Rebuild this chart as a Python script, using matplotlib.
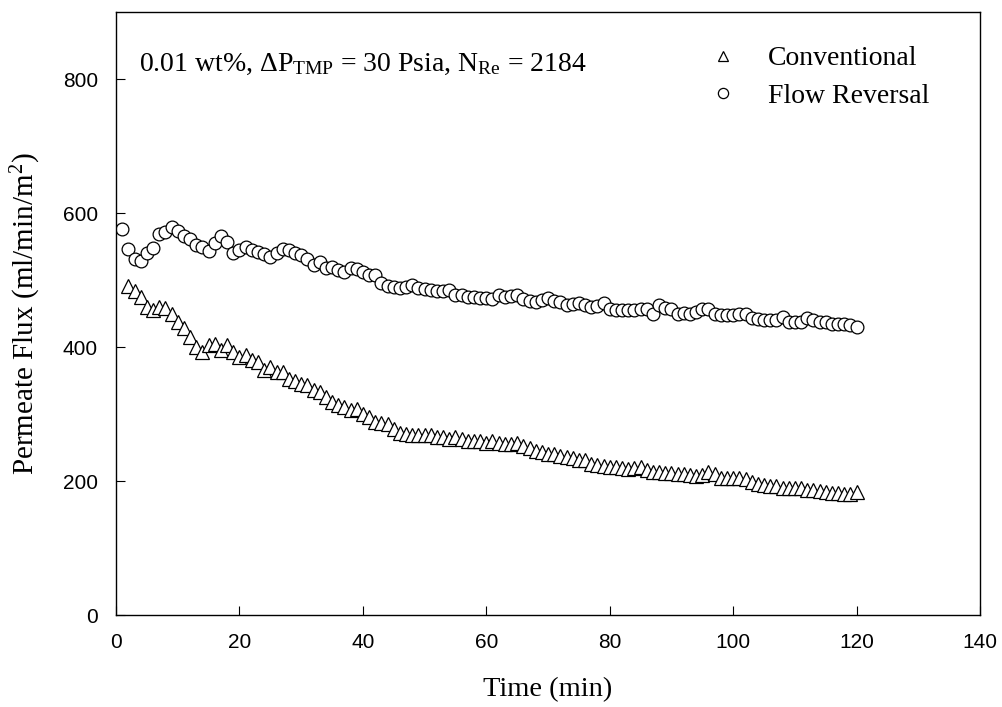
import numpy as np
import matplotlib
matplotlib.use('Agg')
import matplotlib.pyplot as plt

plt.rcParams['mathtext.fontset'] = 'custom'
plt.rcParams['mathtext.rm'] = 'Liberation Serif'
plt.rcParams['mathtext.it'] = 'Liberation Serif:italic'

# flow reversal, one reading per minute from t = 1
time_fr = np.arange(1, 121)
flux_fr = [576, 546, 532, 529, 540, 548, 569, 571, 579, 573,
           565, 561, 553, 550, 543, 555, 565, 556, 541, 545,
           550, 545, 542, 539, 535, 540, 547, 545, 541, 537,
           531, 522, 527, 518, 520, 515, 512, 518, 517, 512,
           508, 507, 495, 491, 490, 488, 490, 493, 488, 486,
           485, 484, 484, 485, 478, 477, 475, 474, 473, 473,
           471, 477, 475, 476, 478, 471, 468, 467, 470, 473,
           469, 467, 463, 464, 465, 462, 460, 461, 465, 457,
           455, 455, 455, 455, 457, 456, 450, 463, 458, 456,
           450, 451, 450, 453, 456, 456, 450, 448, 448, 448,
           449, 450, 443, 442, 440, 440, 441, 445, 438, 438,
           438, 443, 440, 438, 437, 435, 435, 434, 433, 430]

# conventional, from t = 2
time_cv = np.arange(2, 121)
flux_cv = [491, 483, 474, 460, 455, 460, 458, 450, 438,
           428, 415, 400, 393, 403, 405, 395, 403, 393, 385,
           388, 381, 378, 366, 370, 362, 363, 353, 350, 345,
           343, 336, 333, 326, 318, 314, 310, 306, 308, 300,
           295, 288, 286, 285, 278, 271, 270, 268, 268, 268,
           268, 266, 265, 262, 266, 262, 260, 259, 259, 257,
           259, 256, 255, 255, 256, 253, 249, 245, 243, 240,
           240, 238, 236, 234, 232, 231, 226, 224, 222, 221,
           221, 220, 218, 219, 221, 216, 214, 213, 212, 212,
           211, 210, 209, 208, 209, 214, 210, 205, 205, 205,
           204, 203, 198, 196, 194, 193, 192, 190, 189, 189,
           189, 187, 187, 185, 184, 182, 182, 180, 181, 184]

x_ticks = [0, 20, 40, 60, 80, 100, 120, 140]
y_ticks = [0, 200, 400, 600, 800]

fig = plt.figure(figsize=(10.03, 7.07), dpi=100)
ax = fig.add_axes([0.1157, 0.1301, 0.8614, 0.8529])

ax.plot(time_cv, flux_cv, linestyle='none', marker='^', ms=9.5,
        mfc='white', mec='black', mew=0.9, label='Conventional')
ax.plot(time_fr, flux_fr, linestyle='none', marker='o', ms=9.2,
        mfc='white', mec='black', mew=0.9, label='Flow Reversal')

ax.set_xlim(0, 140)
ax.set_ylim(0, 900)
ax.set_xticks(x_ticks)
ax.set_yticks(y_ticks)
ax.tick_params(direction='in', length=6.5, width=0.8, pad=13,
               labelsize=15, top=False, right=False)
for lbl in ax.get_xticklabels() + ax.get_yticklabels():
    lbl.set_fontfamily('Liberation Sans')
for sp in ax.spines.values():
    sp.set_linewidth(1.0)

ax.set_xlabel('Time (min)', fontsize=20.5, family='Liberation Serif', labelpad=18)
ax.set_ylabel('Permeate Flux (ml/min/m$^2$)', fontsize=21,
              family='Liberation Serif', labelpad=14)

ax.text(0.027, 0.902,
        r'0.01 wt%, $\Delta$P$_{\rm TMP}$ = 30 Psia, N$_{\rm Re}$ = 2184',
        transform=ax.transAxes, fontsize=20, family='Liberation Serif',
        va='baseline')

ax.legend(loc='upper left', bbox_to_anchor=(0.686, 0.944), frameon=False,
          prop={'family': 'Liberation Serif', 'size': 20}, markerscale=0.8,
          handlelength=1.0, handletextpad=1.12, borderaxespad=0,
          borderpad=0, labelspacing=0.45)

fig.savefig('out.png', dpi=100)
